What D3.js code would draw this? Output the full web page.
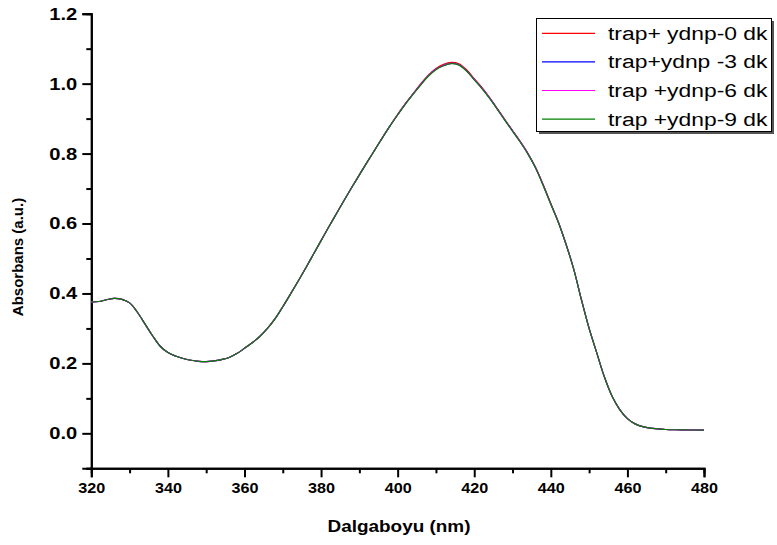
<!DOCTYPE html>
<html><head><meta charset="utf-8">
<script src="https://cdn.jsdelivr.net/npm/d3@7"></script>
<style>
html,body{margin:0;padding:0;background:#fff;}
svg{display:block;}
text{font-family:"Liberation Sans",Arial,sans-serif;}
</style></head>
<body>
<svg id="c" width="777" height="545"></svg>
<script>
const wavelengths = [320,322,324,326,328,330,332,334,336,338,340,342,344,346,348,350,352,354,356,358,360,362,364,366,368,370,372,374,376,378,380,382,384,386,388,390,392,394,396,398,400,402,404,406,408,410,412,414,416,418,420,422,424,426,428,430,432,434,436,438,440,442,444,446,448,450,452,454,456,458,460,462,464,466,468,470,474,480];
const seriesNames = ["trap+ ydnp-0 dk","trap+ydnp -3 dk","trap +ydnp-6 dk","trap +ydnp-9 dk"];
const seriesColors = ["#ff0000","#0000ff","#ff00ff","#008000"];
const ydnp0 = [0.376,0.377,0.382,0.386,0.383,0.373,0.347,0.313,0.279,0.249,0.231,0.221,0.214,0.209,0.206,0.205,0.207,0.211,0.217,0.228,0.243,0.259,0.277,0.300,0.328,0.362,0.398,0.435,0.473,0.512,0.551,0.590,0.628,0.666,0.703,0.739,0.775,0.810,0.845,0.879,0.912,0.943,0.971,0.999,1.024,1.043,1.055,1.061,1.057,1.040,1.014,0.989,0.960,0.929,0.897,0.866,0.835,0.801,0.761,0.711,0.657,0.603,0.540,0.469,0.382,0.300,0.230,0.161,0.106,0.068,0.042,0.027,0.019,0.015,0.013,0.011,0.010,0.009];
const ydnp3 = [0.376,0.377,0.382,0.386,0.383,0.373,0.347,0.313,0.279,0.249,0.231,0.221,0.214,0.209,0.206,0.205,0.207,0.211,0.217,0.228,0.243,0.259,0.277,0.300,0.328,0.362,0.398,0.435,0.473,0.512,0.551,0.590,0.628,0.666,0.703,0.739,0.775,0.810,0.845,0.879,0.911,0.942,0.970,0.997,1.022,1.041,1.052,1.058,1.054,1.037,1.012,0.987,0.959,0.928,0.896,0.865,0.834,0.800,0.760,0.710,0.656,0.603,0.540,0.469,0.382,0.300,0.230,0.161,0.106,0.068,0.042,0.027,0.019,0.015,0.013,0.011,0.010,0.009];
const ydnp6 = [0.376,0.377,0.382,0.386,0.383,0.373,0.347,0.313,0.279,0.249,0.231,0.221,0.214,0.209,0.206,0.205,0.207,0.211,0.217,0.228,0.243,0.259,0.277,0.300,0.328,0.362,0.398,0.435,0.473,0.512,0.551,0.590,0.628,0.666,0.703,0.739,0.775,0.810,0.845,0.879,0.911,0.942,0.970,0.997,1.022,1.041,1.052,1.058,1.054,1.037,1.012,0.987,0.959,0.928,0.896,0.865,0.834,0.800,0.760,0.710,0.656,0.603,0.540,0.469,0.382,0.300,0.230,0.161,0.106,0.068,0.042,0.027,0.019,0.015,0.013,0.011,0.010,0.009];
const ydnp9 = [0.376,0.377,0.382,0.386,0.383,0.373,0.347,0.313,0.279,0.249,0.231,0.221,0.214,0.209,0.206,0.205,0.207,0.211,0.217,0.228,0.243,0.259,0.277,0.300,0.328,0.362,0.398,0.435,0.473,0.512,0.551,0.590,0.628,0.666,0.703,0.739,0.775,0.810,0.845,0.879,0.911,0.941,0.969,0.996,1.021,1.040,1.051,1.057,1.053,1.036,1.011,0.986,0.958,0.927,0.895,0.864,0.833,0.799,0.759,0.709,0.655,0.602,0.539,0.468,0.381,0.300,0.230,0.161,0.106,0.068,0.042,0.027,0.019,0.015,0.013,0.011,0.010,0.009];
const xTicks = [320,340,360,380,400,420,440,460,480];
const xMinor = [330,350,370,390,410,430,450,470];
const yTicks = [0.0,0.2,0.4,0.6,0.8,1.0,1.2];
const yMinor = [-0.1,0.1,0.3,0.5,0.7,0.9,1.1];
const xLabel = "Dalgaboyu (nm)";
const yLabel = "Absorbans (a.u.)";

const allSeries = [ydnp0, ydnp3, ydnp6, ydnp9];
const svg = d3.select("#c");
const L = 91.3, R = 704, T = 13.7, B = 468.3;
const x = d3.scaleLinear().domain([320,480]).range([L,R]);
const y = d3.scaleLinear().domain([-0.1,1.2]).range([B,T]);

const xMinorAxis = d3.axisBottom(x).tickValues(xMinor).tickSize(5).tickFormat("");
const yMinorAxis = d3.axisLeft(y).tickValues(yMinor).tickSize(5).tickFormat("");
const xAxis = d3.axisBottom(x).tickValues(xTicks).tickSize(9).tickPadding(5).tickFormat(d3.format("d"));
const yAxis = d3.axisLeft(y).tickValues(yTicks).tickSize(9).tickPadding(5).tickFormat(d3.format(".1f"));

function styleAxis(g, fs, tl){
  g.select(".domain").attr("stroke","#000").attr("stroke-width",2);
  g.selectAll(".tick line").attr("stroke","#000").attr("stroke-width",2);
  const t = g.selectAll(".tick text").attr("fill","#000").attr("font-size",fs).attr("font-weight","bold")
   .attr("font-family",'"Liberation Sans",Arial,sans-serif');
  if (tl) t.attr("textLength",tl).attr("lengthAdjust","spacingAndGlyphs");
}
svg.append("g").attr("transform",`translate(0,${B})`).call(xMinorAxis).call(g=>styleAxis(g,15));
svg.append("g").attr("transform",`translate(${L},0)`).call(yMinorAxis).call(g=>styleAxis(g,15));
svg.append("g").attr("transform",`translate(0,${B})`).call(xAxis).call(g=>styleAxis(g,15.5,27));
svg.append("g").attr("transform",`translate(${L},0)`).call(yAxis).call(g=>styleAxis(g,17,28));

const line = d3.line().x((d,i)=>x(wavelengths[i])).y(d=>y(d)).curve(d3.curveCatmullRom.alpha(0.5));
allSeries.forEach((s,k)=>{
  svg.append("path").datum(s).attr("d",line).attr("fill","none")
    .attr("stroke",seriesColors[k]).attr("stroke-width",1.2);
});

svg.append("text").attr("x",399).attr("y",532).attr("text-anchor","middle")
  .attr("font-size",17).attr("font-weight","bold")
  .attr("textLength",143).attr("lengthAdjust","spacingAndGlyphs").text(xLabel);
svg.append("text").attr("transform","translate(23,257) rotate(-90)").attr("text-anchor","middle")
  .attr("font-size",15).attr("font-weight","bold").text(yLabel);

const lg = svg.append("g");
lg.append("rect").attr("x",539).attr("y",21).attr("width",235).attr("height",113).attr("fill","#555");
lg.append("rect").attr("x",536.5).attr("y",18.5).attr("width",235).attr("height",113)
  .attr("fill","#fff").attr("stroke","#000").attr("stroke-width",1);
seriesNames.forEach((n,k)=>{
  const yy = 33.3 + k*28.6;
  lg.append("line").attr("x1",542).attr("x2",595).attr("y1",yy).attr("y2",yy)
    .attr("stroke",seriesColors[k]).attr("stroke-width",1.2);
  const t = lg.append("text").attr("x",608).attr("y",yy+6.5).attr("font-size",18).attr("fill","#000").text(n);
  const w = t.node().getComputedTextLength();
  t.attr("textLength", w*1.27).attr("lengthAdjust","spacingAndGlyphs");
});
</script>
</body></html>
